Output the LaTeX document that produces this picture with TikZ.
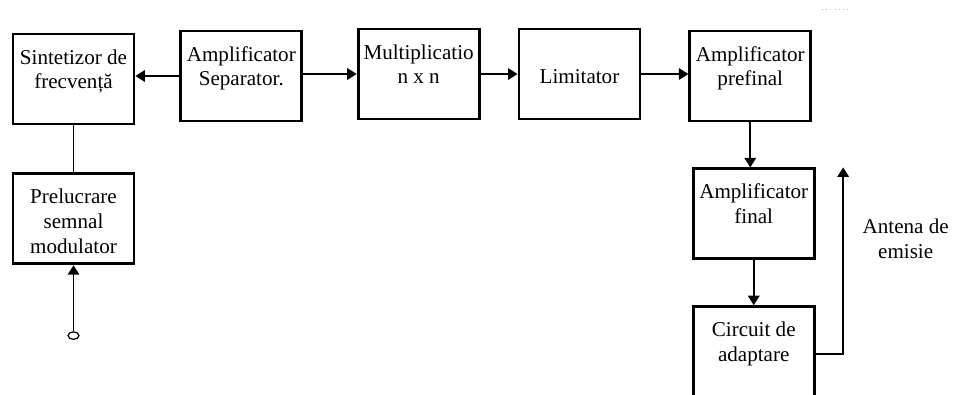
\documentclass[tikz,border=0pt]{standalone}
\usepackage{fontspec}
\setmainfont{Liberation Serif}
\usetikzlibrary{positioning,arrows.meta,shapes.geometric}

\begin{document}
\begin{tikzpicture}[
    node distance=0.9cm and 0.9cm,
    block/.style={draw, line width=1.6pt, inner sep=0pt, font=\fontsize{12pt}{14.2pt}\selectfont,
        execute at begin node={\begin{minipage}[c][#1][t]{2.42cm}\centering\rule{0pt}{0.6cm}},
        execute at end node={\end{minipage}}},
    block/.default=1.8cm,
    arrow/.style={-{Triangle[length=0.19cm, width=0.23cm]}, line width=1pt},
    wire/.style={line width=1pt}
]
\useasboundingbox (0,0) rectangle (19.06,-7.88);

% Upper chain
\node[block] (synth) at (1.47,-1.58) {Sintetizor de\\frecvență};
\node[block, right=0.88cm of synth, yshift=0.06cm] (sep) {Amplificator\\Separator.};
\node[block, right=1.07cm of sep, yshift=0.04cm] (mult) {Multiplicatio\\n x n};
\node[block, right=0.74cm of mult] (lim) {\\Limitator};
\node[block, right=0.94cm of lim, yshift=-0.04cm] (pre) {Amplificator\\prefinal};

% Output stages
\node[block, below=0.9cm of pre, xshift=0.07cm] (fin) {Amplificator\\final};
\node[block=1.9cm, below=0.9cm of fin] (circ) {Circuit de\\adaptare};

% Modulation input
\node[block, below=0.94cm of synth] (prel) {Prelucrare\\semnal\\modulator};
\node[draw, ellipse, line width=0.7pt, inner sep=0pt, minimum width=0.22cm, minimum height=0.15cm,
    below=1.32cm of prel] (in) {};

% Antenna
\coordinate (ant) at ([xshift=0.55cm]circ.east |- fin.north);
\node[align=center, font=\fontsize{12pt}{14.2pt}\selectfont] (antext) at ([xshift=1.8cm, yshift=-0.5cm]fin.east) {Antena de\\emisie};

% Arrows
\draw[arrow] (sep.west) -- (sep.west -| synth.east);
\draw[arrow] (sep.east |- mult.west) -- (mult.west);
\draw[arrow] (mult.east) -- (lim.west);
\draw[arrow] (lim.east) -- (lim.east -| pre.west);
\draw[arrow] (pre.south) -- (pre.south |- fin.north);
\draw[arrow] (fin.south) -- (fin.south |- circ.north);
\draw[arrow] (circ.east) -| (ant);
\draw[wire] (synth) -- (prel);
\draw[arrow] (in) -- (prel);

% small dotted mark top right
\draw[gray!60, dotted, line width=0.4pt] (16.44,-0.18) -- (17.0,-0.18);

\end{tikzpicture}
\end{document}
